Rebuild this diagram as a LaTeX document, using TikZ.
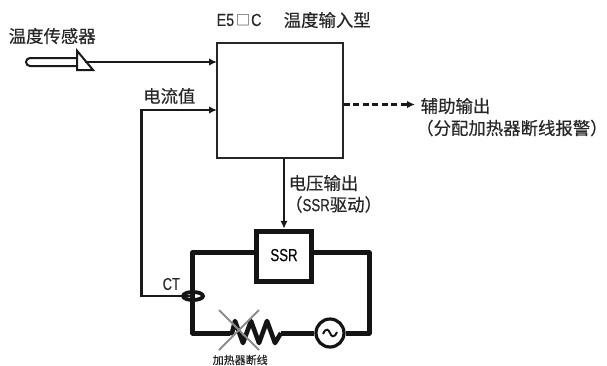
\documentclass[tikz,border=0pt]{standalone}
\usepackage{fontspec}
\setmainfont[FakeBold=0.35]{Noto Sans CJK SC}
\newfontfamily\latinn[FakeStretch=0.82,FakeBold=0.2]{Liberation Sans}
\newfontfamily\latinw[FakeStretch=0.76,FakeBold=0.2]{Liberation Sans}
\newfontfamily\cjkbox{Noto Sans CJK SC}
\usetikzlibrary{arrows.meta,calc,shapes.geometric}
\tikzset{
  lbl/.style={inner sep=0pt,anchor=west,font=\fontsize{17.4pt}{18pt}\selectfont,text=black!85},
  arrowline/.style={line width=2.5pt,color=black!90,-{Latex[length=8pt,width=7.5pt]}},
  thick wire/.style={line width=5pt,color=black!92,line join=round},
  blockbox/.style={draw=black!85,line width=1.8pt,minimum width=126pt,minimum height=115pt,inner sep=0pt},
  ssrbox/.style={draw=black!92,line width=5pt,minimum width=55pt,minimum height=50.5pt,inner sep=0pt,fill=white,font=\latinw\fontsize{17.4pt}{18pt}\selectfont},
  acsrc/.style={circle,draw=black!92,line width=3.2pt,minimum size=28pt,inner sep=0pt,fill=white},
  ctring/.style={ellipse,draw=black!92,line width=3.8pt,minimum width=20pt,minimum height=8pt,inner sep=0pt}
}
\begin{document}
\begin{tikzpicture}[x=1pt,y=-1pt]
\useasboundingbox (0,0) rectangle (607,365);
\node[blockbox] (ctrl) at (280,100.5) {};
\node[ssrbox] (ssr) at (284,256.5) {\raisebox{3pt}{SSR}};
\node[acsrc] (ac) at (330,333) {};
\coordinate (ctc) at (193,296);
\coordinate (tl) at (192.7,252.7);
\coordinate (tr) at (369,252.7);
\coordinate (br) at (369,333);
\coordinate (bl) at (192.7,333);
\coordinate (rs) at (230,333);
\coordinate (re) at (281,333);
\coordinate (in1) at (217,62);
\coordinate (in2) at (217,110);
\coordinate (dash) at (415,104.5);
% wires
\draw[thick wire] (ssr.west |- tl) -- (tl) -- (bl) -- (rs);
\draw[thick wire] (ssr.east |- tr) -- (tr) -- (br) -- (ac.east);
\draw[thick wire] (re) -- (ac.west);
% resistor
\draw[line width=4.6pt,color=black!92,line join=round] (rs) -- (232,333) -- (235,321) -- (243,343) -- (251,321) -- (259,343) -- (267,321) -- (275,343) -- (re);
% ct and signal
\draw[arrowline] (ctc) -- (141.5,296) -- (141.5,110) -- (in2);
\node[ctring] (ct) at (ctc) {};
% sensor
\draw[line width=2pt,color=black!90] (77,58) -- (30,58) arc[start angle=-90,end angle=-270,radius=4] -- (77,66);
\draw[line width=2pt,color=black!90] (77,50.7) -- (77,70) -- (93,70) -- cycle;
\draw[arrowline] (85,62) -- (in1);
% outputs
\draw[arrowline] (ctrl.south -| ssr.north) -- (ssr.north);
\draw[line width=2.2pt,color=black!90,dash pattern=on 6pt off 3.5pt,-{Latex[length=8pt,width=7.5pt]}] (ctrl.east |- dash) -- (dash);
% AC wave
\draw[line width=2pt,color=black!92] (323,334) .. controls (326,327) and (329,330) .. (330,333) .. controls (331,336) and (334,339) .. (337,332);
% cross
\draw[line width=1.8pt,color=black!45] (219,310) -- (259,350) (259,310) -- (219,350);
% labels
\node[lbl] (t1) at (8.5,36) {温度传感器};
\node[lbl] (t2) at (143,96) {电流值};
\node[lbl] (t3) at (216.5,20) {\latinn E5\hspace{2pt}{\fontsize{14pt}{15pt}\cjkbox □}\hspace{1pt}C};
\node[lbl] (t3b) at (283.5,20) {温度输入型};
\node[lbl] (t4) at (420.5,106) {辅助输出};
\node[lbl] (t5) at (416,128) {（分配加热器断线报警）};
\node[lbl] (t6) at (288.5,183) {电压输出};
\node[lbl] (t7) at (285,204.5) {（{\latinw SSR}驱动）};
\node[lbl,font=\latinw\fontsize{17pt}{18pt}\selectfont] (t8) at (162.5,284) {CT};
\node[lbl,font=\fontsize{11pt}{12pt}\selectfont] (t9) at (212.5,360) {加热器断线};
\end{tikzpicture}
\end{document}
